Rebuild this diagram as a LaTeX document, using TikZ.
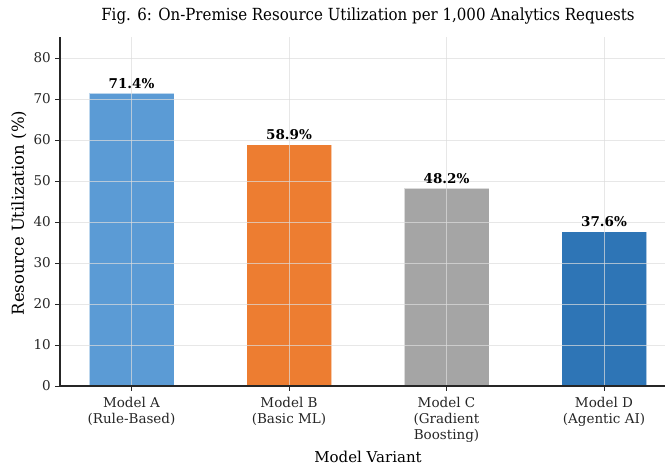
\documentclass[tikz,border=0pt]{standalone}
\usepackage{fontspec}
\setmainfont{DejaVu Serif}
\newfontfamily\titlefont{DejaVu Serif Condensed}
\definecolor{barA}{HTML}{5B9BD5}
\definecolor{barB}{HTML}{ED7D31}
\definecolor{barC}{HTML}{A5A5A5}
\definecolor{barD}{HTML}{2E75B6}
\definecolor{gridc}{HTML}{DDDDDD}
\definecolor{spinec}{HTML}{262626}
\tikzset{
  bar/.style={line width=0.8pt, draw=white, draw opacity=0.6},
  gridline/.style={draw=gridc, line width=0.8pt, opacity=0.7},
  spine/.style={draw=spinec, line width=1.2pt},
  tickmark/.style={draw=spinec, line width=1pt},
  ticklab/.style={font=\fontsize{13.5}{16}\selectfont, text=spinec, inner sep=0pt},
  xticklab/.style={ticklab, align=center, anchor=north},
  vallab/.style={font=\fontsize{13.5}{16}\selectfont\bfseries, text=black, inner sep=0pt, anchor=base},
  axlab/.style={font=\fontsize{15}{17}\selectfont, text=black, inner sep=0pt},
}
\begin{document}
\begin{tikzpicture}[x=1pt,y=-1pt]
  \fill[white] (0,0) rectangle (665,469);
  \useasboundingbox (0,0) rectangle (665,469);
  % value axis: 0 at y=386, 41 px per 10 units
  \def\yz{386}
  \def\ys{4.1}
  % bars
  \foreach \cx/\v/\c in {131.5/71.4/barA, 289/58.9/barB, 446.5/48.2/barC, 604/37.6/barD}{
    \filldraw[bar, fill=\c] (\cx-42.5,\yz) rectangle (\cx+42.5,{\yz-\v*\ys});
  }
  % grid
  \foreach \t in {10,20,...,80}{
    \draw[gridline] (60,{\yz-\t*\ys}) -- (665,{\yz-\t*\ys});
  }
  \foreach \cx in {131.5,289,446.5,604}{
    \draw[gridline] (\cx,37) -- (\cx,\yz);
  }
  % spines
  \draw[spine] (60,37) -- (60,\yz) -- (665,\yz);
  % y ticks
  \foreach \t in {0,10,...,80}{
    \draw[tickmark] (55,{\yz-\t*\ys}) -- (60,{\yz-\t*\ys});
    \node[ticklab, anchor=east] (yt\t) at (51,{\yz-\t*\ys}) {\t};
  }
  % x ticks
  \foreach \cx in {131.5,289,446.5,604}{
    \draw[tickmark] (\cx,\yz) -- (\cx,391);
  }
  \node[xticklab] (xa) at (131.5,397.5) {Model A\\(Rule-Based)};
  \node[xticklab] (xb) at (289,397.5) {Model B\\(Basic ML)};
  \node[xticklab] (xc) at (446.5,397.5) {Model C\\(Gradient\\Boosting)};
  \node[xticklab] (xd) at (604,397.5) {Model D\\(Agentic AI)};
  % value labels
  \node[vallab] (va) at (131.5,{\yz-71.4*\ys-5}) {71.4\%};
  \node[vallab] (vb) at (289,{\yz-58.9*\ys-5}) {58.9\%};
  \node[vallab] (vc) at (446.5,{\yz-48.2*\ys-5}) {48.2\%};
  \node[vallab] (vd) at (604,{\yz-37.6*\ys-5}) {37.6\%};
  % axis labels and title
  \node[axlab] (xl) at (368,457) {Model Variant};
  \node[axlab, font=\fontsize{16.5}{19}\selectfont, rotate=90] (yl) at (19,213) {Resource Utilization (\%)};
  \node[axlab, font=\fontsize{16.7}{19}\selectfont\titlefont] (ttl) at (368,16) {Fig. 6: On-Premise Resource Utilization per 1,000 Analytics Requests};
\end{tikzpicture}
\end{document}
